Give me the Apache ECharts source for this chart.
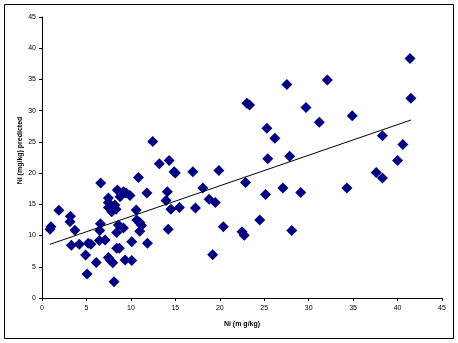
<!DOCTYPE html>
<html>
<head>
<meta charset="utf-8">
<script src="https://cdn.jsdelivr.net/npm/echarts@6/dist/echarts.min.js"></script>
<style>
html, body { margin: 0; padding: 0; background: #fff; }
#chart { width: 458px; height: 343px; }
</style>
</head>
<body>
<div id="chart"></div>
<script>
// Measured Ni (mg/kg) against predicted Ni (mg/kg)
const measuredNi = [
  0.9, 1.0, 1.9, 3.2, 3.15, 3.7, 3.3, 4.2, 4.9, 5.07, 5.2, 5.5, 6.1, 6.45, 6.5, 6.57, 6.6,
  7.1, 7.47, 7.66, 7.96, 8.1, 7.47, 7.47, 7.47, 8.2, 8.1, 7.85, 8.33, 8.48, 8.78, 8.6, 8.4,
  8.4, 8.7, 9.16, 9.46, 9.9, 9.16, 9.35, 10.1, 10.1, 10.6, 10.66, 11.0, 11.0, 11.2, 10.85,
  11.8, 11.86, 12.46, 13.2, 14.3, 14.86, 15.0, 16.97, 19.9, 14.1, 13.96, 14.5, 15.46, 17.26,
  14.2, 18.1, 18.8, 19.5, 19.2, 20.4, 22.5, 22.75, 22.9, 23.05, 23.35, 24.5, 25.15, 25.4,
  25.3, 26.2, 27.1, 27.55, 27.86, 28.1, 29.1, 29.7, 31.2, 32.1, 34.3, 34.9, 37.6, 38.3,
  38.3, 40.0, 40.6, 41.4, 41.5
];
const predictedNi = [
  11.0, 11.4, 14.05, 13.1, 12.2, 10.85, 8.45, 8.6, 6.9, 3.85, 8.75, 8.6, 5.7, 9.2, 10.8, 11.9, 18.4,
  9.3, 6.5, 6.1, 5.66, 2.6, 16.0, 15.3, 14.5, 14.9, 14.4, 13.8, 14.2, 17.3, 16.2, 11.7, 10.5,
  7.96, 7.96, 17.0, 16.8, 16.4, 11.2, 6.1, 6.0, 9.0, 14.1, 12.5, 12.1, 10.7, 11.6, 19.3,
  16.8, 8.76, 25.05, 21.5, 22.0, 20.2, 20.0, 20.2, 20.4, 17.0, 15.6, 14.2, 14.5, 14.4,
  11.0, 17.6, 15.8, 15.3, 6.94, 11.4, 10.6, 10.05, 18.5, 31.2, 30.9, 12.5, 16.56, 22.3,
  27.2, 25.6, 17.6, 34.2, 22.7, 10.8, 16.9, 30.5, 28.15, 34.9, 17.6, 29.2, 20.1, 19.2,
  26.0, 22.0, 24.6, 38.35, 32.0
];

// Linear trend line end points
const trendX = [0.9, 41.5];
const trendY = [8.6, 28.5];

const axisTicks = [0, 5, 10, 15, 20, 25, 30, 35, 40, 45];

const points = measuredNi.map((x, i) => [x, predictedNi[i]]);
const trend = trendX.map((x, i) => [x, trendY[i]]);

const chart = echarts.init(document.getElementById('chart'), null, { renderer: 'canvas' });
const font = 'Liberation Sans, Arial, sans-serif';

chart.setOption({
  animation: false,
  backgroundColor: '#fff',
  grid: { left: 42, right: 16, top: 17, bottom: 45, containLabel: false },
  graphic: [{
    type: 'rect',
    shape: { x: 4.5, y: 4.5, width: 449, height: 334 },
    style: { fill: 'none', stroke: '#000', lineWidth: 1 },
    silent: true
  }],
  xAxis: {
    type: 'value',
    min: axisTicks[0],
    max: axisTicks[axisTicks.length - 1],
    interval: 5,
    name: 'Ni (m g/kg)',
    nameLocation: 'middle',
    nameGap: 23,
    nameTextStyle: { fontFamily: font, fontSize: 7, fontWeight: 'bold', color: '#000' },
    axisLine: { lineStyle: { color: '#000', width: 1 } },
    axisTick: { show: true, inside: false, length: 3, lineStyle: { color: '#000' } },
    axisLabel: { fontFamily: font, fontSize: 7, color: '#000', margin: 7 },
    splitLine: { show: false }
  },
  yAxis: {
    type: 'value',
    min: axisTicks[0],
    max: axisTicks[axisTicks.length - 1],
    interval: 5,
    name: 'Ni (mg/kg) predicted',
    nameLocation: 'middle',
    nameGap: 18,
    nameMoveOverlap: false,
    nameRotate: 90,
    nameTextStyle: { fontFamily: font, fontSize: 7, fontWeight: 'bold', color: '#000', padding: [0, 0, 0, 14] },
    axisLine: { show: true, lineStyle: { color: '#000', width: 1 } },
    axisTick: { show: true, inside: false, length: 3, lineStyle: { color: '#000' } },
    axisLabel: { fontFamily: font, fontSize: 7, color: '#000', margin: 6 },
    splitLine: { show: false }
  },
  series: [
    {
      type: 'scatter',
      data: points,
      symbol: 'diamond',
      symbolSize: 11,
      itemStyle: { color: '#000080', opacity: 1 },
      z: 3
    },
    {
      type: 'line',
      data: trend,
      symbol: 'none',
      lineStyle: { color: '#000', width: 1 },
      z: 4
    }
  ]
});
</script>
</body>
</html>
